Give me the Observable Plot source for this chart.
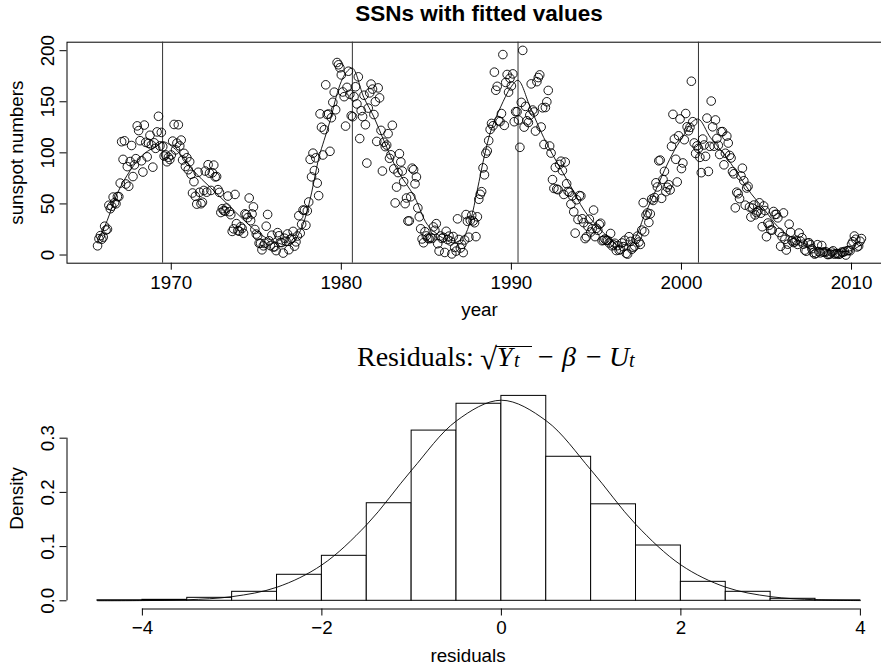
<!DOCTYPE html>
<html><head><meta charset="utf-8">
<script src="https://cdn.jsdelivr.net/npm/d3@7"></script>
<script src="https://cdn.jsdelivr.net/npm/@observablehq/plot@0.6"></script>
<style>
html,body{margin:0;padding:0;background:#fff;overflow:hidden;width:881px;height:666px;}
#wrap{position:relative;width:881px;height:666px;overflow:hidden;}
.panel{position:absolute;left:0;width:900px;}
#title{position:absolute;left:0;top:3.4px;width:958px;text-align:center;font:bold 22.5px 'Liberation Sans',Arial,sans-serif;line-height:22.5px;color:#000;white-space:nowrap;}
#rtitle{position:absolute;left:0;top:0;width:881px;height:380px;font-family:'Liberation Serif','Times New Roman',serif;color:#000;pointer-events:none;}
#rtitle span{position:absolute;white-space:nowrap;line-height:28px;font-size:28px;}
#rtitle span.sub{font-size:20px;line-height:20px;}
#rtitle span.rad{font-size:31px;line-height:31px;}
#rtitle .bar{position:absolute;border-top:1.4px solid #000;height:0;}
</style>
</head><body>
<div id="wrap">
  <div class="panel" id="top" style="top:0"></div>
  <div class="panel" id="bottom" style="top:330px"></div>
  <div id="title">SSNs with fitted values</div>
  <div id="rtitle">
    <span style="left:357px;top:343.3px">Residuals:</span>
    <span class="rad" style="left:480px;top:343px">√</span>
    <div class="bar" style="left:496px;top:346px;width:36px"></div>
    <span style="left:497px;top:343.3px;font-style:italic">Y</span>
    <span class="sub" style="left:514px;top:349.5px;font-style:italic">t</span>
    <span style="left:538px;top:343.3px">−</span>
    <span style="left:562px;top:343.3px;font-style:italic">β</span>
    <span style="left:586px;top:343.3px">−</span>
    <span style="left:609px;top:343.3px;font-style:italic">U</span>
    <span class="sub" style="left:629px;top:349.5px;font-style:italic">t</span>
  </div>
</div>
<script>
// ---- Top panel data: monthly sunspot numbers, Aug 1965 .. Jul 2010 ----
const ssnStart = 1965 + 8 / 12;
const ssnMonthly = [
  9.0, 16.0, 19.0, 15.5, 17.5,
  28.2, 24.4, 25.3, 48.7, 45.3, 47.7, 56.7, 51.2, 50.2, 57.2, 57.2, 70.4,
  110.9, 93.6, 111.8, 69.5, 86.5, 67.3, 91.5, 107.2, 76.8, 88.2, 94.3, 126.4,
  121.8, 111.9, 92.2, 81.2, 127.2, 110.3, 96.1, 109.3, 117.2, 107.7, 86.0, 109.8,
  104.4, 120.5, 135.8, 106.8, 120.0, 106.0, 96.8, 98.0, 91.3, 95.7, 93.5, 97.9,
  111.5, 127.8, 102.9, 109.5, 127.5, 106.8, 112.5, 93.0, 99.5, 86.6, 95.2, 83.5,
  91.3, 79.0, 60.7, 71.8, 57.5, 49.8, 81.0, 61.4, 50.2, 51.7, 63.2, 82.2,
  61.5, 88.4, 80.1, 63.2, 80.5, 88.0, 76.5, 76.8, 64.0, 61.3, 41.6, 45.3,
  43.4, 42.9, 46.0, 57.7, 42.4, 39.5, 23.1, 25.6, 59.3, 30.7, 23.9, 23.3,
  27.6, 26.0, 21.3, 40.3, 39.5, 36.6, 55.8, 33.6, 40.2, 47.1, 25.0, 20.5,
  18.9, 11.5, 11.5, 5.1, 9.0, 11.4, 28.2, 39.7, 13.9, 9.1, 19.4, 7.8,
  8.1, 4.3, 21.9, 18.8, 12.4, 12.2, 1.9, 16.4, 13.5, 20.6, 5.2, 15.3,
  16.4, 23.1, 8.7, 12.9, 18.6, 38.5, 21.4, 30.1, 44.0, 43.8, 29.1, 43.2,
  51.9, 93.6, 76.5, 99.7, 82.7, 95.1, 70.4, 58.1, 138.2, 125.1, 97.9, 122.7,
  166.6, 137.5, 138.0, 101.5, 134.4, 149.5, 159.4, 142.2, 188.4, 186.2, 183.3, 176.3,
  159.6, 155.0, 126.2, 164.1, 179.9, 157.3, 136.3, 135.4, 155.0, 164.7, 147.9, 174.4,
  114.0, 141.3, 135.5, 156.4, 127.5, 90.0, 143.8, 158.7, 167.3, 162.4, 137.5, 150.1,
  111.2, 163.6, 153.8, 122.0, 82.2, 110.4, 106.1, 107.6, 118.8, 94.7, 98.1, 127.0,
  84.3, 51.0, 66.5, 80.7, 99.2, 91.1, 82.2, 71.8, 50.3, 55.8, 33.3, 33.4,
  57.0, 85.0, 83.5, 69.7, 76.4, 46.1, 37.4, 25.7, 15.7, 12.0, 22.8, 18.7,
  16.5, 15.9, 17.2, 16.2, 27.5, 24.2, 30.7, 11.1, 3.9, 18.6, 16.2, 17.3,
  2.5, 23.2, 15.1, 18.5, 13.7, 1.1, 18.1, 7.4, 3.8, 35.4, 15.2, 6.8,
  10.4, 2.4, 14.7, 39.6, 33.0, 17.4, 33.9, 38.8, 33.3, 31.6, 18.0, 37.4,
  54.6, 59.4, 62.0, 85.3, 78.5, 99.6, 101.9, 112.0, 122.9, 128.8, 126.5, 179.0,
  161.3, 165.1, 131.4, 130.6, 138.5, 196.2, 126.9, 168.9, 176.7, 159.4, 173.0, 165.5,
  177.3, 130.5, 140.3, 140.3, 132.2, 105.4, 149.4, 200.3, 125.2, 145.5, 131.4, 129.7,
  136.9, 167.5, 141.9, 140.0, 121.3, 169.7, 173.7, 176.3, 125.3, 144.1, 108.2, 144.4,
  150.0, 161.1, 106.7, 99.8, 73.8, 65.2, 85.7, 64.5, 63.9, 88.7, 91.8, 82.6,
  59.3, 91.0, 69.8, 62.2, 61.3, 49.8, 57.9, 42.3, 21.4, 54.1, 34.8, 58.2,
  57.8, 35.5, 31.7, 16.1, 17.8, 28.0, 35.1, 22.5, 25.7, 44.0, 18.0, 26.2,
  24.2, 29.9, 31.1, 14.0, 14.5, 15.6, 14.5, 14.3, 11.8, 21.1, 9.0, 10.0,
  11.5, 4.4, 9.2, 4.8, 5.5, 11.8, 8.2, 14.4, 1.6, 0.9, 17.9, 13.3,
  5.7, 7.6, 8.7, 15.5, 18.5, 12.7, 10.4, 24.4, 51.3, 22.8, 39.0, 41.2,
  31.9, 40.3, 54.8, 53.4, 56.3, 70.7, 66.6, 92.2, 92.9, 55.5, 74.0, 81.9,
  62.0, 66.3, 68.8, 63.7, 106.4, 137.7, 113.5, 93.7, 71.5, 116.7, 133.2, 84.6,
  90.1, 112.9, 138.5, 125.5, 121.6, 124.9, 170.1, 130.5, 109.7, 99.4, 106.8, 104.4,
  95.6, 80.6, 113.5, 107.7, 96.6, 134.0, 81.8, 106.4, 150.7, 125.5, 106.5, 132.2,
  114.1, 107.4, 98.4, 120.7, 120.8, 88.3, 99.6, 116.4, 109.6, 97.5, 95.0, 81.6,
  79.5, 46.2, 61.5, 60.0, 55.2, 77.4, 85.0, 72.7, 48.8, 65.6, 67.2, 47.0,
  37.2, 46.0, 48.9, 39.3, 41.5, 43.2, 51.1, 40.9, 27.7, 48.0, 43.5, 17.9,
  31.3, 29.2, 24.5, 24.4, 42.6, 39.6, 39.9, 36.4, 22.1, 8.5, 18.0, 41.2,
  15.3, 4.9, 10.6, 30.2, 22.3, 13.9, 12.2, 12.9, 14.4, 10.4, 21.5, 13.6,
  16.9, 10.6, 4.8, 3.7, 11.7, 12.0, 10.0, 6.2, 2.4, 0.9, 1.7, 10.1,
  3.3, 2.1, 9.3, 2.9, 2.9, 3.1, 0.5, 0.5, 1.1, 2.9, 4.1, 0.8,
  1.5, 1.4, 0.7, 1.2, 2.9, 2.6, 3.5, 0.0, 4.2, 4.6, 4.2, 10.6,
  13.1, 18.6, 15.4, 7.9, 8.8, 13.5, 16.1
];
// fitted curve, read at knots
const fitYears = [1965.67, 1966.24, 1966.82, 1967.6, 1968.39, 1969.18, 1969.49, 1970.35, 1971.33, 1972.31, 1973.3, 1974.28, 1975.26, 1976.24, 1977.0, 1977.6, 1978.1, 1978.4, 1978.69, 1978.98, 1979.37, 1979.7, 1980.0, 1980.3, 1980.65,
  1981.33, 1981.92, 1982.5, 1983.3, 1984.3, 1985.05, 1985.84, 1986.62, 1987.2, 1987.6, 1988.0, 1988.4, 1988.8, 1989.37, 1989.96, 1990.39,
  1991.1, 1991.9, 1992.7, 1993.5, 1994.27, 1995.06, 1995.84, 1996.4, 1997.2, 1997.8, 1998.4, 1999.0, 1999.6, 2000.2, 2000.55, 2001.0,
  2001.7, 2002.5, 2003.3, 2004.1, 2004.9, 2005.65, 2006.4, 2007.4, 2008.6, 2009.4, 2009.9, 2010.58];
const fitValues = [12, 34, 60, 83, 99, 107, 111, 102, 82, 66, 50, 34, 20, 12, 10, 24, 50, 73, 96, 112, 133, 155, 170, 179, 183,
  154, 135, 112, 83, 57, 30, 18, 12, 18, 34, 64, 96, 122, 145, 164, 171,
  145, 115, 90, 67, 44, 28, 15, 8, 15, 38, 60, 83, 103, 119, 129, 133,
  115, 99, 80, 60, 44, 28, 18, 10, 5, 3.5, 4, 10];
const cyclePeaks = [1969.49, 1980.65, 1990.39, 2001.0];
const yearTicks = [1970, 1980, 1990, 2000, 2010];
const ssnTicks = [0, 50, 100, 150, 200];

// ---- Bottom panel data: residual histogram ----
const binStarts = [-4.5, -4, -3.5, -3, -2.5, -2, -1.5, -1, -0.5, 0, 0.5, 1, 1.5, 2, 2.5, 3, 3.5];
const binDensity = [0.001, 0.0018, 0.0055, 0.0166, 0.048, 0.083, 0.180, 0.314, 0.3635, 0.378, 0.2657, 0.178, 0.102, 0.035, 0.0166, 0.0037, 0.0009];
const binWidth = 0.5;
const curveX = [-4.5, -4, -3.5, -3, -2.5, -2, -1.5, -1, -0.5, 0, 0.5, 1, 1.5, 2, 2.5, 3, 3.5, 4];
const curveDensity = [0.0001, 0.0004, 0.0019, 0.0077, 0.0251, 0.0662, 0.1405, 0.241, 0.332, 0.370, 0.332, 0.241, 0.1405, 0.0662, 0.0251, 0.0077, 0.0019, 0.0004];
const residTicks = [-4, -2, 0, 2, 4];
const densityTicks = [0, 0.1, 0.2, 0.3];

const font = "'Liberation Sans', Arial, Helvetica, sans-serif";
const fs = "18.8px";

const monthly = ssnMonthly.map((v, i) => ({t: ssnStart + i / 12, v}));
const fitted = fitYears.map((t, i) => ({t, v: fitValues[i]}));

const topPlot = Plot.plot({
  width: 893, height: 330,
  marginTop: 41.7, marginBottom: 67.3, marginLeft: 66.5, marginRight: 1.5,
  x: {domain: [1963.87, 2012.38]},
  y: {domain: [-8.01, 208.31]},
  style: {fontFamily: font, fontSize: fs, color: "#000", background: "transparent", maxWidth: "none", overflow: "visible"},
  marks: [
    Plot.frame({stroke: "#000", strokeWidth: 1}),
    Plot.ruleX(cyclePeaks, {stroke: "#333", strokeWidth: 1}),
    Plot.line(fitted, {x: "t", y: "v", curve: "catmull-rom", stroke: "#000", strokeWidth: 0.9}),
    Plot.dot(monthly, {x: "t", y: "v", r: 4.3, stroke: "#000", strokeWidth: 0.9, fill: "none"}),
    Plot.axisX({ticks: yearTicks, tickSize: 7, tickPadding: 5, tickFormat: d => String(d), label: null}),
    Plot.axisY({ticks: ssnTicks, tickSize: 7, tickFormat: () => "", label: null}),
    Plot.text(ssnTicks, {y: d => d, text: d => String(d), frameAnchor: "left", dx: -13.2, rotate: -90, textAnchor: "middle", lineAnchor: "bottom"}),
    Plot.text(["sunspot numbers"], {text: d => d, frameAnchor: "left", dx: -44, rotate: -90, textAnchor: "middle", lineAnchor: "bottom"}),
    Plot.text(["year"], {text: d => d, frameAnchor: "bottom", dy: 52.3, lineAnchor: "bottom"})
  ]
});
document.getElementById("top").appendChild(topPlot);

const bins = binStarts.map((x0, i) => ({x0, x1: x0 + binWidth, d: binDensity[i]}));
const curvePts = curveX.map((x, i) => ({x, d: curveDensity[i]}));
const hxDomain = [-4.84, 4.096];
const hyDomain = [-0.01512, 0.39312];
const fmtMinus = d => d < 0 ? "\u2212" + Math.abs(d) : String(d);

const botPlot = Plot.plot({
  width: 893, height: 336,
  marginTop: 57.2, marginBottom: 57.5, marginLeft: 66.5, marginRight: 24.5,
  x: {domain: hxDomain},
  y: {domain: hyDomain},
  style: {fontFamily: font, fontSize: fs, color: "#000", background: "transparent", maxWidth: "none", overflow: "visible"},
  marks: [
    Plot.rect(bins, {x1: "x0", x2: "x1", y1: d => 0, y2: "d", fill: "white", stroke: "#000", strokeWidth: 1}),
    Plot.line(curvePts, {x: "x", y: "d", curve: "catmull-rom", stroke: "#000", strokeWidth: 0.9}),
    Plot.ruleY([hyDomain[0]], {x1: d3.min(residTicks), x2: d3.max(residTicks), stroke: "#000"}),
    Plot.ruleX([hxDomain[0]], {y1: d3.min(densityTicks), y2: d3.max(densityTicks), stroke: "#000"}),
    Plot.axisX({ticks: residTicks, tickSize: 7, tickPadding: 5, tickFormat: fmtMinus, label: null}),
    Plot.axisY({ticks: densityTicks, tickSize: 7, tickFormat: () => "", label: null}),
    Plot.text(densityTicks, {y: d => d, text: d => d.toFixed(1), frameAnchor: "left", dx: -13.2, rotate: -90, textAnchor: "middle", lineAnchor: "bottom"}),
    Plot.text(["Density"], {text: d => d, frameAnchor: "left", dx: -44.5, rotate: -90, textAnchor: "middle", lineAnchor: "bottom"}),
    Plot.text(["residuals"], {text: d => d, frameAnchor: "bottom", dy: 52.5, lineAnchor: "bottom"})
  ]
});
document.getElementById("bottom").appendChild(botPlot);
</script>
</body></html>
